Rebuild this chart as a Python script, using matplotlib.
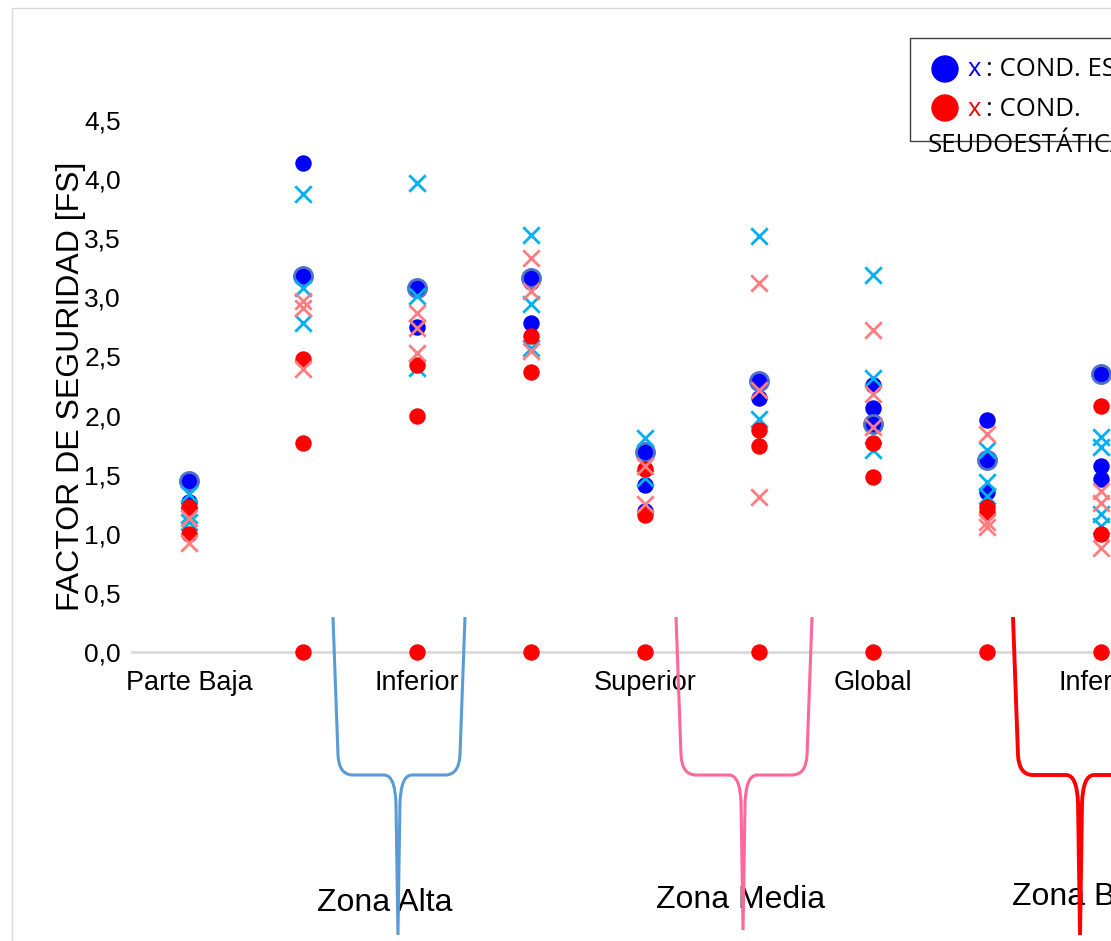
import numpy as np
import matplotlib
matplotlib.use("Agg")
import matplotlib.pyplot as plt
from matplotlib.path import Path
from matplotlib.patches import PathPatch, Rectangle, Circle
from matplotlib.transforms import IdentityTransform

plt.rcParams['font.family'] = ['Liberation Sans', 'DejaVu Sans']

# posiciones de categoria (1..9), solo se rotulan las impares
etiquetas_pos = [1, 3, 5, 7, 9]
etiquetas = ["Parte Baja", "Inferior", "Superior", "Global", "Inferior"]

# FS condicion estatica (circulos azules)
azul = {1: [1.43, 1.27], 2: [4.14], 3: [2.75], 4: [3.13, 2.78], 5: [1.41, 1.19],
        6: [2.15], 7: [2.26, 2.06], 8: [1.96, 1.35], 9: [1.57, 1.46]}
# circulos azules con borde
azul_borde = {1: [1.45], 2: [3.18], 3: [3.08], 4: [3.16], 5: [1.69],
              6: [2.29], 7: [1.93], 8: [1.62], 9: [2.35]}
# FS estatico (x celeste)
cian = {1: [1.34, 1.16, 1.10], 2: [3.87, 3.08, 2.78], 3: [3.97, 3.01, 2.40],
        4: [3.53, 2.94, 2.57], 5: [1.81, 1.47], 6: [3.52, 1.97],
        7: [3.19, 2.32, 1.71], 8: [1.71, 1.44, 1.32], 9: [1.82, 1.73, 1.17, 1.07]}
# FS pseudoestatico (circulos rojos)
rojo = {1: [1.23, 1.00], 2: [2.48, 1.77, 0.0], 3: [2.43, 2.00, 0.0],
        4: [2.67, 2.37, 0.0], 5: [1.55, 1.16, 0.0], 6: [1.88, 1.74, 0.0],
        7: [1.77, 1.48, 0.0], 8: [1.23, 1.18, 0.0], 9: [2.08, 1.00, 0.0]}
# FS pseudoestatico (x rosa)
rosa = {1: [1.13, 0.92], 2: [2.97, 2.91, 2.39], 3: [2.87, 2.74, 2.53],
        4: [3.33, 3.05, 2.55], 5: [1.57, 1.25], 6: [3.12, 2.22, 1.31],
        7: [2.72, 2.18, 1.90], 8: [1.84, 1.10, 1.06], 9: [1.36, 1.26, 0.88]}

# zonas: (inicio, vertice, fin) en unidades de categoria
zonas = ["Zona Alta", "Zona Media", "Zona Baja"]
zonas_x = [(2.263, 2.833, 3.421), (5.272, 5.860, 6.465), (8.228, 8.816, 9.40)]
zonas_col = ["#5B9BD5", "#FF6699", "#FF0000"]


def puntos(d):
    xs, ys = [], []
    for k, vals in d.items():
        xs += [k] * len(vals)
        ys += vals
    return xs, ys


W, H = 1111, 941
fig = plt.figure(figsize=(W / 100, H / 100), dpi=100)
ax = fig.add_axes([132 / W, 1 - 652 / H, (1158 - 132) / W, (652 - 120) / H])

ms = 140
x, y = puntos(azul)
ax.scatter(x, y, s=ms, marker='o', color='#0000FF', linewidths=0, zorder=3, clip_on=False)
x, y = puntos(azul_borde)
ax.scatter(x, y, s=ms + 30, marker='o', facecolor='#0000FF', edgecolor='#4F72C8',
           linewidths=2, zorder=3, clip_on=False)
x, y = puntos(cian)
ax.scatter(x, y, s=ms, marker='x', color='#00B0F0', linewidths=2, zorder=4, clip_on=False)
x, y = puntos(rojo)
ax.scatter(x, y, s=ms, marker='o', color='#FF0000', linewidths=0, zorder=5, clip_on=False)
x, y = puntos(rosa)
ax.scatter(x, y, s=ms, marker='x', color='#FF7C80', linewidths=2, zorder=6, clip_on=False)

ax.set_xlim(0.5, 9.5)
ax.set_ylim(0, 4.5)
yt = np.arange(0, 4.51, 0.5)
ax.set_yticks(yt)
ax.set_yticklabels([f"{v:.1f}".replace('.', ',') for v in yt], fontsize=19)
ax.set_xticks(etiquetas_pos)
ax.set_xticklabels(etiquetas, fontsize=19.5)
ax.tick_params(length=0)
ax.tick_params(axis='y', pad=8)
ax.tick_params(axis='x', pad=13)
for s in ['top', 'right', 'left']:
    ax.spines[s].set_visible(False)
ax.spines['bottom'].set_color('#D9D9D9')
ax.spines['bottom'].set_linewidth(2)
ax.set_ylabel("FACTOR DE SEGURIDAD [FS]", fontsize=23)
ax.yaxis.set_label_coords(-0.045, 0.5)

# marco exterior del grafico
fig.add_artist(Rectangle((12 / W, -0.1), 1.2, 1 - 8 / H + 0.1, fill=False,
                         edgecolor='#D9D9D9', lw=1, transform=fig.transFigure))

# llaves de zonas (coordenadas de pantalla)
fig.canvas.draw()
ytop, ymid = H - 617, H - 775
ybots = [H - 935, H - 930, H - 935]
lws = [2.2, 2.2, 2.8]
for (a, m, b), col, yb, lw in zip(zonas_x, zonas_col, ybots, lws):
    p0 = ax.transData.transform((a, 0))[0]
    pm = ax.transData.transform((m, 0))[0]
    p1 = ax.transData.transform((b, 0))[0]
    verts = [(p0, ytop), (p0 + 5, ymid + 20), (p0 + 6, ymid), (p0 + 20, ymid),
             (pm - 14, ymid), (pm - 3, ymid), (pm - 2, ymid - 28), (pm, yb),
             (pm + 2, ymid - 28), (pm + 3, ymid), (pm + 14, ymid),
             (p1 - 20, ymid), (p1 - 6, ymid), (p1 - 5, ymid + 20), (p1, ytop)]
    codes = [Path.MOVETO, Path.LINETO, Path.CURVE3, Path.CURVE3,
             Path.LINETO, Path.CURVE3, Path.CURVE3, Path.LINETO,
             Path.LINETO, Path.CURVE3, Path.CURVE3,
             Path.LINETO, Path.CURVE3, Path.CURVE3, Path.LINETO]
    fig.add_artist(PathPatch(Path(verts, codes), fill=False, edgecolor=col, lw=lw,
                             transform=IdentityTransform(), zorder=10))

zonas_tx = [385, 741, 1012]
zonas_ty = [903, 900, 897]
zonas_ha = ['center', 'center', 'left']
for t, tx, ty, ha in zip(zonas, zonas_tx, zonas_ty, zonas_ha):
    fig.text(tx / W, 1 - ty / H, t, fontsize=23, ha=ha, va='center', zorder=5)

# leyenda
fig.add_artist(Rectangle((910 / W, 1 - 141 / H), 0.3, (141 - 38) / H, fill=False,
                         edgecolor='#404040', lw=1, transform=fig.transFigure))
fig.add_artist(Circle((945, H - 69), 13, color='#0000FF', transform=IdentityTransform()))
fig.add_artist(Circle((945, H - 108), 13, color='#FF0000', transform=IdentityTransform()))
lf = ['Open Sans', 'DejaVu Sans']
fs = 18.5
fig.text(968 / W, 1 - 70 / H, "x", color='#0000FF', fontsize=fs, va='center', family=lf)
fig.text(986 / W, 1 - 70 / H, ": COND. ESTÁTICA", color='black', fontsize=fs, va='center', family=lf)
fig.text(968 / W, 1 - 109 / H, "x", color='#FF0000', fontsize=fs, va='center', family=lf)
fig.text(986 / W, 1 - 109 / H, ": COND.", color='black', fontsize=fs, va='center', family=lf)
fig.text(928 / W, 1 - 146 / H, "SEUDOESTÁTICA", color='black', fontsize=fs, va='center', family=lf)

fig.savefig("out.png", dpi=100)
